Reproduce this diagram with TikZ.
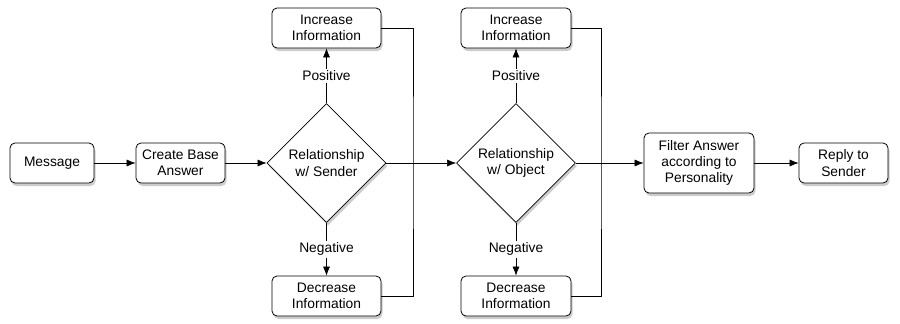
\documentclass[tikz,border=0pt]{standalone}
\usepackage{fontspec}
\setmainfont{Liberation Sans}
\usetikzlibrary{shapes.geometric,shadows,arrows.meta}
\begin{document}
\begin{tikzpicture}[x=1pt,y=-1pt,line join=round,>={Latex[length=9pt,width=7pt]}]
        \tikzset{every node/.style={font=\fontsize{13.8}{16.2}\selectfont,align=center}}
        \tikzset{stepbox/.style={draw,thick,fill=white,rounded corners=5pt,inner sep=0pt,
                minimum height=40pt,drop shadow={shadow xshift=1.5pt,shadow yshift=-3pt,opacity=0.4}}}
        \tikzset{choice/.style={draw,thick,fill=white,diamond,aspect=1,inner sep=0pt,
                minimum width=119pt,minimum height=119pt,drop shadow={shadow xshift=1.5pt,shadow yshift=-3pt,opacity=0.4}}}
        \tikzset{flow/.style={->,semithick}}
        \useasboundingbox (0,0) rectangle (900,324);
        % main line
        \node[stepbox,minimum width=84pt] (msg) at (52,163) {Message};
        \node[stepbox,minimum width=89pt] (base) at (180.5,163) {Create Base\\Answer};
        \node[choice] (rsend) at (326.5,163) {Relationship\\w/ Sender};
        \node[choice] (robj) at (516,163) {Relationship\\w/ Object};
        \node[stepbox,minimum width=110pt,minimum height=60pt] (filt) at (699,163) {Filter Answer\\according to\\Personality};
        \node[stepbox,minimum width=89pt] (reply) at (843.5,163) {Reply to\\Sender};
        % branches
        \node[stepbox,minimum width=109pt] (inc1) at (326.5,28) {Increase\\Information};
        \node[stepbox,minimum width=109pt] (dec1) at (326.5,296) {Decrease\\Information};
        \node[stepbox,minimum width=110pt] (inc2) at (516,28) {Increase\\Information};
        \node[stepbox,minimum width=110pt] (dec2) at (516,296) {Decrease\\Information};
        \coordinate (j1) at (413,163);
        \coordinate (j2) at (601,163);
        \draw[flow] (msg)--(base);
        \draw[flow] (base)--(rsend);
        \draw[flow] (rsend)--(robj);
        \draw[flow] (robj)--(filt);
        \draw[flow] (filt)--(reply);
        \foreach \d/\i/\o/\j in {rsend/inc1/dec1/j1,robj/inc2/dec2/j2}
        {
        \draw[flow] (\d.north)--node[fill=white,inner sep=2pt]{Positive}(\i.south);
        \draw[flow] (\d.south)--node[fill=white,inner sep=2pt]{Negative}(\o.north);
        \draw[semithick] (\i.east)-|(\j)|-(\o.east);
        }
    \end{tikzpicture}
\end{document}
